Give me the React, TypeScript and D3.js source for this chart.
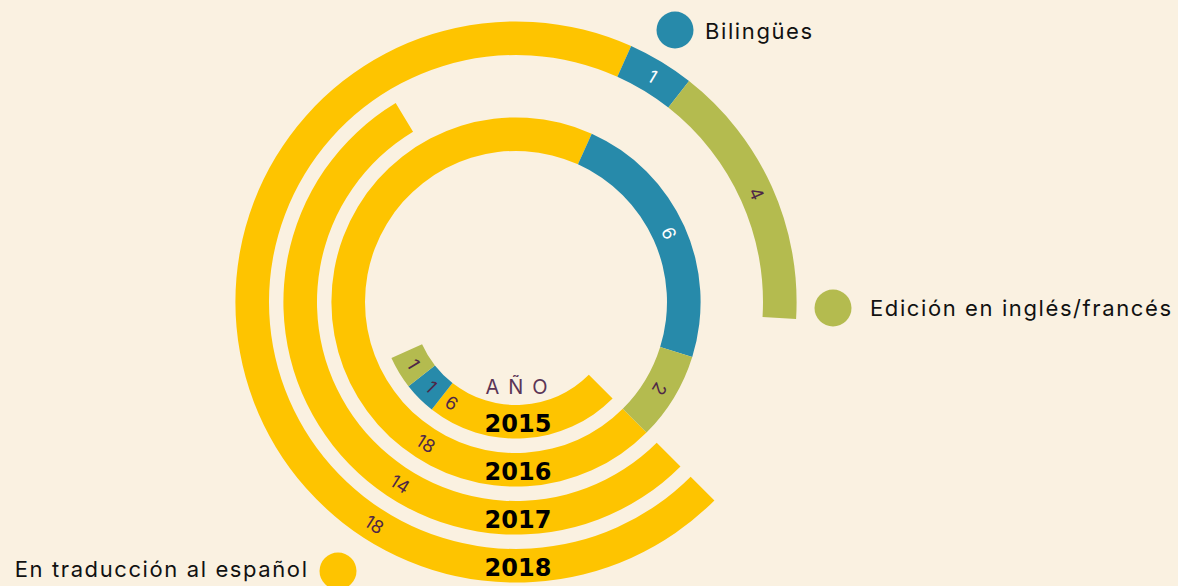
import React from "react";
import * as d3 from "d3";

const years = ["2015", "2016", "2017", "2018"];
const traduccion = [6, 18, 14, 18];
const bilingues = [1, 6, 0, 1];
const edicion = [1, 2, 0, 4];
const seriesKeys = ["traduccion", "bilingues", "edicion"];
const seriesLabels = ["En traducción al español", "Bilingües", "Edición en inglés/francés"];
const seriesColors = ["#FEC400", "#278AAA", "#B4BB4F"];

const W = 1178;
const H = 586;
const CX = 516;
const CY = 302;
const START = (3 * Math.PI) / 4;
const FIRST_LABEL_ANGLE = (212.5 * Math.PI) / 180;
const BG = "#FAF1E1";
const DARK = "#4E2747";
const FONT = "Inter, 'Noto Sans', sans-serif";
const LS = 1.6;

export default function App() {
  const rows = years.map((y, i) => ({
    year: y,
    traduccion: traduccion[i],
    bilingues: bilingues[i],
    edicion: edicion[i],
  }));
  const stacked = d3.stack<any>().keys(seriesKeys)(rows);
  const totals = rows.map((r) => r.traduccion + r.bilingues + r.edicion);
  const angle = d3
    .scaleLinear()
    .domain([0, d3.max(totals) as number])
    .range([0, 2 * Math.PI]);
  const radius = d3
    .scaleBand<string>()
    .domain(years)
    .range([103, 280.6])
    .paddingInner(0.3);
  const arc = d3.arc<any>();

  const segs: any[] = [];
  stacked.forEach((layer, si) => {
    layer.forEach((d, yi) => {
      const v = d[1] - d[0];
      if (v <= 0) return;
      const year = years[yi];
      const r0 = radius(year) as number;
      const r1 = r0 + radius.bandwidth();
      const a0 = START + angle(d[0]);
      const a1 = START + angle(d[1]);
      const la = si === 0 ? FIRST_LABEL_ANGLE : (a0 + a1) / 2;
      segs.push({ si, yi, v, r0, r1, a0, a1, la, rm: (r0 + r1) / 2 });
    });
  });

  return (
    <svg
      width={W}
      height={H}
      style={{ position: "absolute", left: 0, top: 0, background: BG }}
    >
      <rect width={W} height={H} fill={BG} />
      <g transform={`translate(${CX},${CY})`}>
        {segs.map((s, i) => (
          <path
            key={"p" + i}
            d={arc({ innerRadius: s.r0, outerRadius: s.r1, startAngle: s.a0, endAngle: s.a1 }) as string}
            fill={seriesColors[s.si]}
          />
        ))}
        {segs.map((s, i) => {
          const deg = ((s.la * 180) / Math.PI) % 360;
          const x = Math.sin(s.la) * s.rm;
          const y = -Math.cos(s.la) * s.rm;
          const rot = deg > 180 && deg < 360 ? deg - 180 : deg;
          const fill = s.si === 1 && deg < 180 ? "#FFFFFF" : DARK;
          return (
            <text
              key={"t" + i}
              transform={`translate(${x},${y}) rotate(${rot})`}
              textAnchor="middle"
              dominantBaseline="central"
              fontFamily={FONT}
              fontSize={18}
              fill={fill}
            >
              {s.v}
            </text>
          );
        })}
        {years.map((y) => (
          <text
            key={"y" + y}
            x={2}
            y={(radius(y) as number) + radius.bandwidth() / 2 + 10.5}
            textAnchor="middle"
            fontFamily="'DejaVu Sans', sans-serif"
            fontWeight="bold"
            fontSize={24}
            fill="#000"
          >
            {y}
          </text>
        ))}
        <text
          x={5}
          y={92}
          textAnchor="middle"
          fontFamily={FONT}
          fontWeight={400}
          fontSize={20}
          letterSpacing={9}
          fill="#5B3556"
        >
          AÑO
        </text>
      </g>
      {/* legend */}
      <circle cx={675} cy={30} r={18.5} fill={seriesColors[1]} />
      <text x={705} y={38.5} fontFamily={FONT} fontSize={22} letterSpacing={LS} fill="#111">
        {seriesLabels[1]}
      </text>
      <circle cx={833} cy={308} r={18.5} fill={seriesColors[2]} />
      <text x={870} y={316} fontFamily={FONT} fontSize={22} letterSpacing={LS} fill="#111">
        {seriesLabels[2]}
      </text>
      <circle cx={338} cy={571} r={18.5} fill={seriesColors[0]} />
      <text x={307 + LS} y={577} textAnchor="end" fontFamily={FONT} fontSize={22} letterSpacing={LS} fill="#111">
        {seriesLabels[0]}
      </text>
    </svg>
  );
}
